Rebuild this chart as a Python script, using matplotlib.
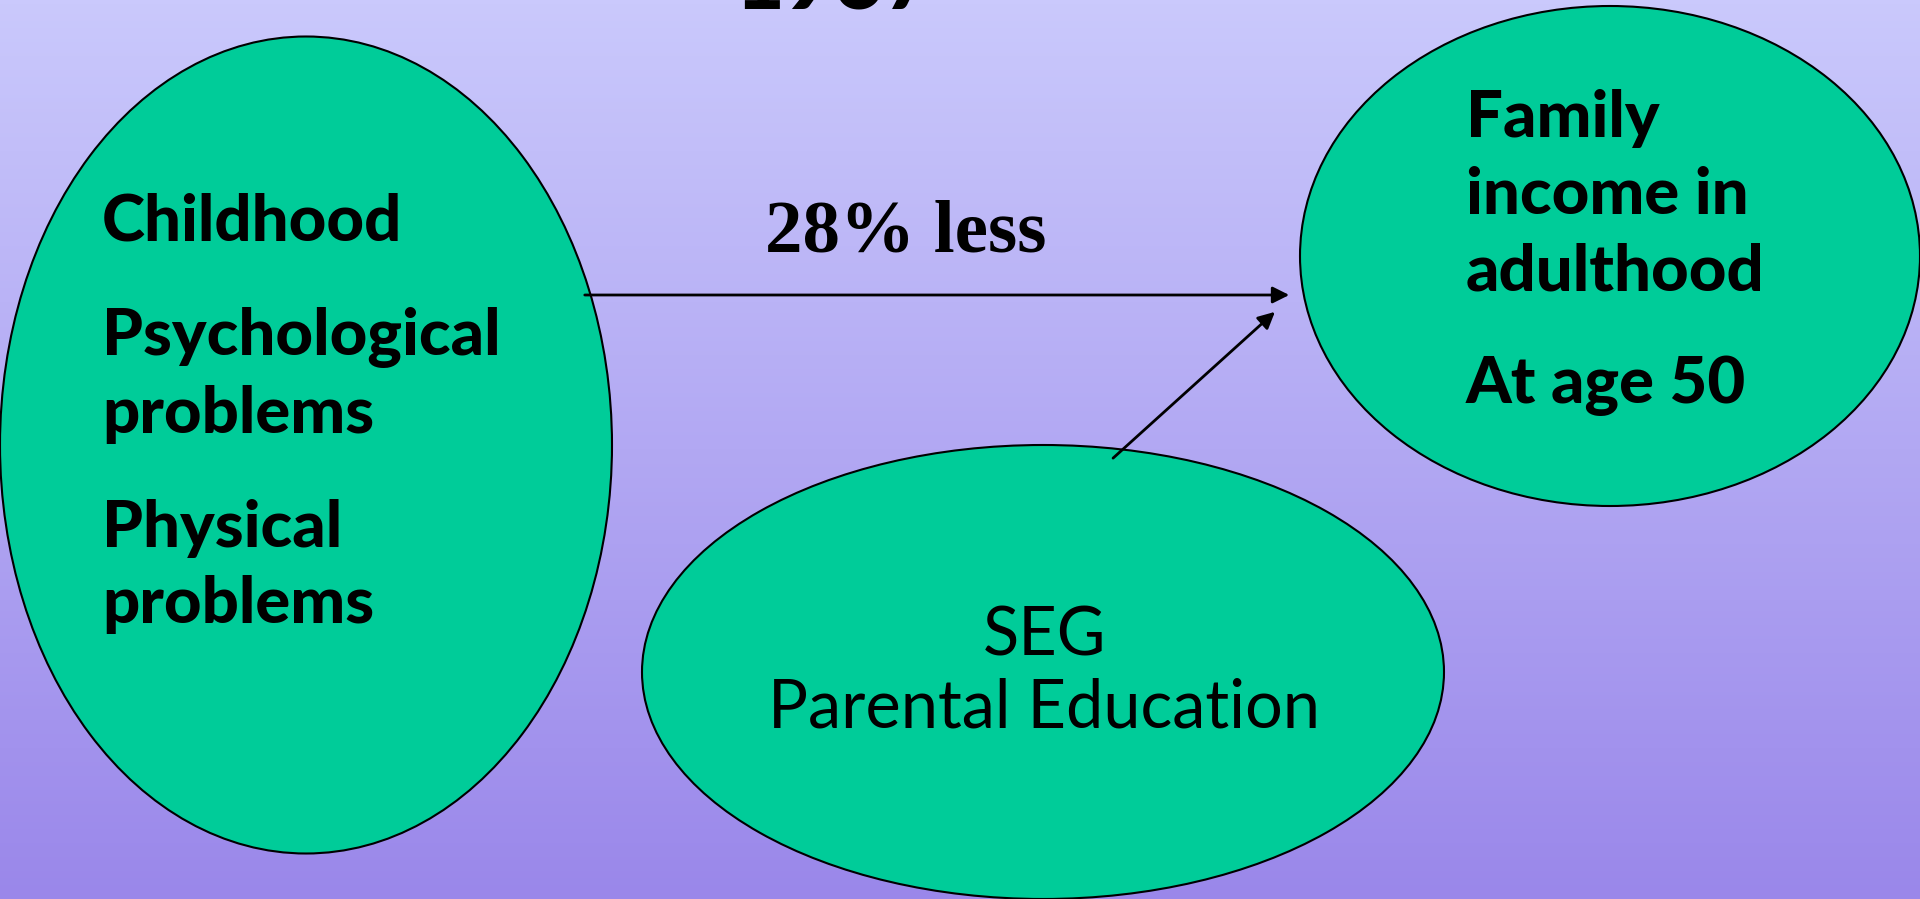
import matplotlib
matplotlib.use('Agg')
import matplotlib.pyplot as plt
import numpy as np
from matplotlib.patches import Ellipse

W, H = 1920, 899

# 节点：中心、宽、高（像素）
node_names = ['childhood', 'income', 'seg']
node_cx = [306, 1610, 1043]
node_cy = [445, 256, 672]
node_w = [612, 620, 802]
node_h = [817, 500, 454]

left_lines = ['Childhood', 'Psychological', 'problems', 'Physical', 'problems']
left_y = [222, 338, 414, 529, 605]
right_lines = ['Family', 'income in', 'adulthood', 'At age 50']
right_y = [119, 196, 272, 386]
seg_lines = ['SEG', 'Parental Education']
seg_y = [636, 708]

arrow_label = '28% less'
title_text = '1967'

FILL = '#00CC99'
SANS = ['Lato', 'DejaVu Sans']

fig = plt.figure(figsize=(W / 100, H / 100), dpi=100)
ax = fig.add_axes([0, 0, 1, 1])
ax.set_xlim(0, W)
ax.set_ylim(H, 0)
ax.axis('off')

# 渐变背景
top = np.array([202, 201, 252]) / 255
bot = np.array([154, 135, 234]) / 255
t = np.linspace(0, 1, 256)[:, None]
grad = top + (bot - top) * t
ax.imshow(grad[:, None, :], extent=[0, W, H, 0], aspect='auto', zorder=0)

for cx, cy, w, h in zip(node_cx, node_cy, node_w, node_h):
    ax.add_patch(Ellipse((cx, cy), w, h, facecolor=FILL, edgecolor='black', lw=1.5, zorder=1))

# 箭头
ax.annotate('', xy=(1292, 295), xytext=(582, 295),
            arrowprops=dict(arrowstyle='-|>', color='black', lw=2, mutation_scale=25), zorder=3)
ax.annotate('', xy=(1277, 310), xytext=(1111, 460),
            arrowprops=dict(arrowstyle='-|>', color='black', lw=2, mutation_scale=25), zorder=3)

ax.text(906, 233, arrow_label, family='Liberation Serif', fontweight='bold',
        fontsize=54, ha='center', va='center', zorder=4)

for s, y in zip(left_lines, left_y):
    ax.text(102, y, s, family=SANS, fontweight='black', fontsize=47, ha='left', va='center', zorder=4)
for s, y in zip(right_lines, right_y):
    ax.text(1466, y, s, family=SANS, fontweight='black', fontsize=47, ha='left', va='center', zorder=4)
for s, y in zip(seg_lines, seg_y):
    ax.text(1044, y, s, family=SANS, fontsize=48, ha='center', va='center', zorder=4)

# 标题大部分在画面外，只露出底部
ax.text(835, 9, title_text, family=SANS, fontweight='black', fontsize=62,
        ha='center', va='baseline', zorder=4)

fig.savefig('out.png', dpi=100)
